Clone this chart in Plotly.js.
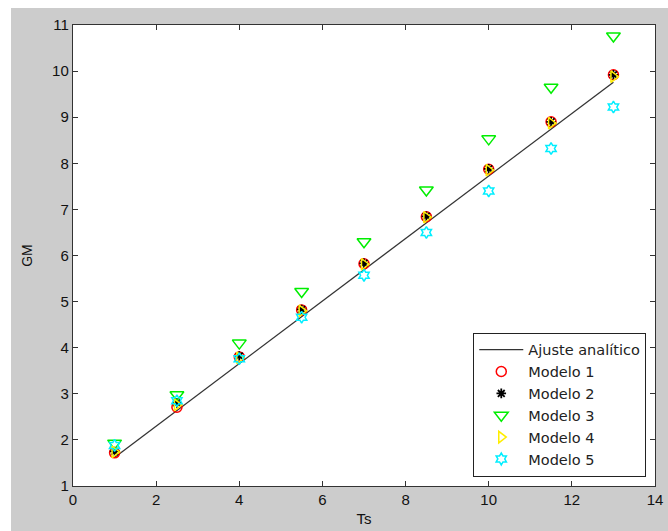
<!DOCTYPE html>
<html>
<head>
<meta charset="utf-8">
<script src="https://cdn.plot.ly/plotly-3.0.1.min.js"></script>
<style>
  html, body { margin: 0; padding: 0; background: #ffffff; width: 668px; height: 531px; overflow: hidden; }
  #chart { position: absolute; left: 11px; top: 8px; width: 657px; height: 523px; }
</style>
</head>
<body>
<div id="chart"></div>
<script>
const ts = [1, 2.5, 4, 5.5, 7, 8.5, 10, 11.5, 13];
const ajuste = [1.62, 2.64, 3.66, 4.68, 5.70, 6.71, 7.73, 8.74, 9.76];
const modelo1 = [1.72, 2.71, 3.80, 4.82, 5.82, 6.84, 7.87, 8.90, 9.92];
const modelo2 = [1.75, 2.80, 3.82, 4.83, 5.83, 6.85, 7.88, 8.90, 9.92];
const modelo3 = [1.93, 2.98, 4.10, 5.22, 6.30, 7.42, 8.53, 9.65, 10.76];
const modelo4 = [1.74, 2.76, 3.78, 4.80, 5.81, 6.83, 7.85, 8.87, 9.88];
const modelo5 = [1.88, 2.85, 3.76, 4.66, 5.57, 6.50, 7.40, 8.32, 9.22];
const names = ['Ajuste analítico', 'Modelo 1', 'Modelo 2', 'Modelo 3', 'Modelo 4', 'Modelo 5'];

const traces = [
  { x: ts, y: ajuste, name: names[0], mode: 'lines', type: 'scatter',
    line: { color: '#333333', width: 1.3 } },
  { x: ts, y: modelo1, name: names[1], mode: 'markers', type: 'scatter',
    marker: { symbol: 'circle-open', size: 10, color: '#ff0000', line: { width: 1.5 } } },
  { x: ts, y: modelo2, name: names[2], mode: 'markers', type: 'scatter',
    marker: { symbol: 'asterisk-open', size: 8, color: '#000000', line: { width: 1.8 } } },
  { x: ts, y: modelo3, name: names[3], mode: 'markers', type: 'scatter',
    marker: { symbol: 'triangle-down-open', size: 12, color: '#00ee00', line: { width: 1.5 } } },
  { x: ts, y: modelo4, name: names[4], mode: 'markers', type: 'scatter',
    marker: { symbol: 'triangle-right-open', size: 10, color: '#ffee00', line: { width: 1.5 } } },
  { x: ts, y: modelo5, name: names[5], mode: 'markers', type: 'scatter',
    marker: { symbol: 'hexagram-open', size: 9, color: '#00eeff', line: { width: 1.5 } } }
];

const axisCommon = {
  showgrid: false, zeroline: false,
  showline: true, linecolor: '#333333', linewidth: 1.2, mirror: 'ticks',
  ticks: 'inside', ticklen: 5, tickwidth: 1, tickcolor: '#333333',
  tickfont: { family: 'Liberation Sans, Arial, sans-serif', size: 15, color: '#111111' }
};

const layout = {
  width: 657, height: 523,
  paper_bgcolor: '#cccccc', plot_bgcolor: '#ffffff',
  margin: { l: 62, r: 13, t: 17, b: 45 },
  showlegend: true,
  xaxis: Object.assign({}, axisCommon, {
    range: [0, 14], tickvals: [0, 2, 4, 6, 8, 10, 12, 14],
    title: { text: 'Ts', standoff: 6, font: { family: 'Liberation Sans, Arial, sans-serif', size: 15, color: '#111111' } }
  }),
  yaxis: Object.assign({}, axisCommon, {
    range: [1, 11], tickvals: [1, 2, 3, 4, 5, 6, 7, 8, 9, 10, 11],
    title: { text: 'GM', standoff: 16, font: { family: 'Liberation Sans, Arial, sans-serif', size: 14, color: '#111111' } }
  }),
  legend: {
    x: 0.985, xanchor: 'right', y: 0.02, yanchor: 'bottom',
    bgcolor: '#ffffff', bordercolor: '#222222', borderwidth: 1,
    font: { family: 'DejaVu Sans, sans-serif', size: 14.5, color: '#222222' },
    itemwidth: 44, tracegroupgap: 0
  }
};

Plotly.newPlot('chart', traces, layout, { displayModeBar: false, staticPlot: true });
</script>
</body>
</html>
